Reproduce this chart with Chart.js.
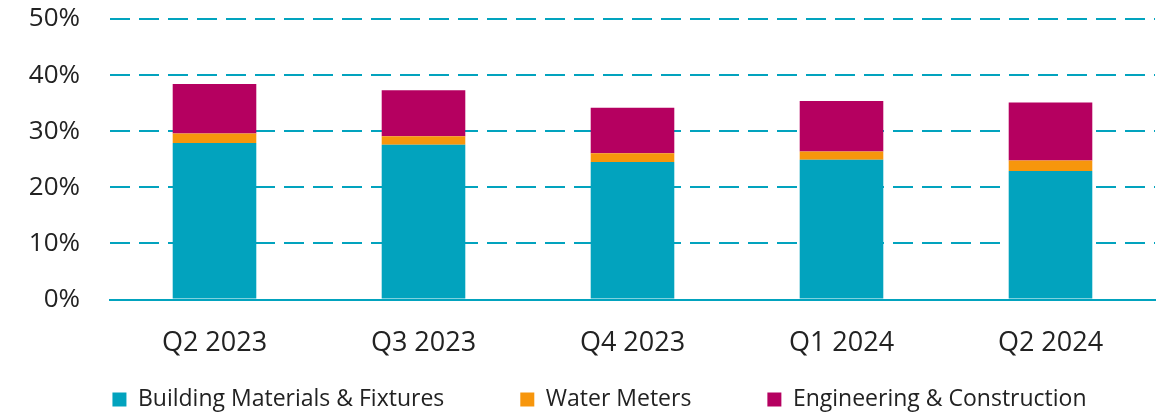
<!DOCTYPE html>
<html>
<head>
<meta charset="utf-8">
<script src="https://cdn.jsdelivr.net/npm/chart.js@4"></script>
<style>
html,body{margin:0;padding:0;background:#fff;}
#wrap{width:1164px;height:414px;}
</style>
</head>
<body>
<div id="wrap"><canvas id="c" width="1164" height="414"></canvas></div>
<script>
const categories = ["Q2 2023", "Q3 2023", "Q4 2023", "Q1 2024", "Q2 2024"];
const buildingMaterials = [27.9, 27.6, 24.5, 24.9, 22.9];
const waterMeters = [1.7, 1.5, 1.6, 1.5, 1.9];
const engineering = [8.8, 8.2, 8.1, 9.0, 10.3];
const yTicks = [0, 10, 20, 30, 40, 50];

const TEAL = '#02A3BE', ORANGE = '#F7960C', MAGENTA = '#B50060';
const LEGEND_PAD = 76;

const legendTweak = {
  id: 'legendTweak',
  beforeLayout(chart) {
    const lg = chart.legend;
    if (lg && !lg._patched) {
      const orig = lg.fit.bind(lg);
      lg.fit = function() { orig(); this.height = 16; };
      lg._patched = true;
    }
  },
  afterLayout(chart) {
    const lg = chart.legend;
    if (!lg) return;
    lg.top = 400 - LEGEND_PAD - 12;
    lg.bottom = 414;
    lg.height = lg.bottom - lg.top;
    lg.left += 22; lg.right += 22;
  }
};

new Chart(document.getElementById('c'), {
  type: 'bar',
  data: {
    labels: categories,
    datasets: [
      {label: 'Building Materials & Fixtures', data: buildingMaterials, backgroundColor: TEAL},
      {label: 'Water Meters', data: waterMeters, backgroundColor: ORANGE},
      {label: 'Engineering & Construction', data: engineering, backgroundColor: MAGENTA}
    ]
  },
  plugins: [legendTweak],
  options: {
    responsive: false,
    animation: false,
    layout: {padding: {left: 0, right: 9, top: 19, bottom: 10}},
    datasets: {bar: {categoryPercentage: 1, barPercentage: 0.4}},
    plugins: {
      tooltip: {enabled: false},
      legend: {
        position: 'bottom',
        labels: {
          color: '#222',
          font: {family: 'Open Sans', size: 23},
          boxWidth: 14, boxHeight: 14,
          padding: LEGEND_PAD
        }
      }
    },
    scales: {
      x: {
        stacked: true,
        grid: {display: false, drawTicks: false},
        border: {display: true, color: TEAL, width: 2},
        ticks: {color: '#222', font: {family: 'Open Sans', size: 27}, padding: 28}
      },
      y: {
        stacked: true,
        min: 0, max: 50,
        afterFit: s => { s.width = 110; s.paddingTop = 0; s.paddingBottom = 0; },
        afterBuildTicks: s => { s.ticks = yTicks.map(v => ({value: v})); },
        grid: {
          drawTicks: false,
          color: ctx => (ctx.tick && ctx.tick.value === 0) ? 'rgba(0,0,0,0)' : TEAL,
          lineWidth: 2
        },
        border: {display: false, dash: [20, 9]},
        ticks: {
          color: '#222',
          font: {family: 'Open Sans', size: 26},
          padding: 30,
          callback: v => v + '%'
        }
      }
    }
  }
});
</script>
</body>
</html>
